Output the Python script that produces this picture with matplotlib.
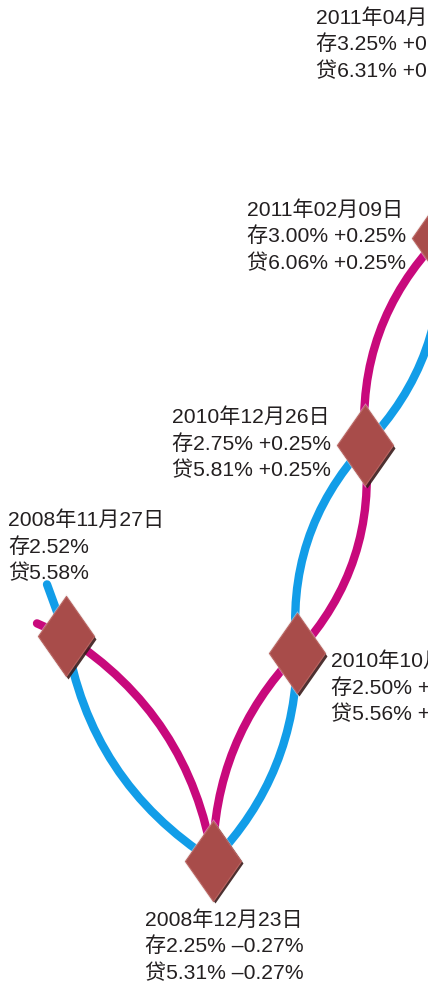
import matplotlib
matplotlib.use("Agg")
import matplotlib.pyplot as plt
import matplotlib.transforms as mtransforms
from matplotlib.path import Path
from matplotlib.patches import PathPatch
import numpy as np

# 数据：历次存贷款基准利率调整
dates = ["2008年11月27日", "2008年12月23日", "2010年10月20日",
         "2010年12月26日", "2011年02月09日", "2011年04月06日"]
deposit = [2.52, 2.25, 2.50, 2.75, 3.00, 3.25]
loan = [5.58, 5.31, 5.56, 5.81, 6.06, 6.31]
change = [None, -0.27, 0.25, 0.25, 0.25, 0.25]

# 版式（横向位置，像素）
x_pos = [66, 213, 297, 365, 440, 509]
# 文字相对菱形中心的偏移（像素，x, 首行y）
label_off = [(-58, 116), (-68, -59), (34, -8), (-193, 28), (-193, 28), (-193, 12)]
line_gap = 26.7
magenta_side = [1, 1, -1, 1, -1]
bulge = [40, 30, 33, 33, 33]

BLUE = "#129de8"
MAGENTA = "#c8097c"
DIAMOND = "#a84c4a"
FONT = ["Liberation Sans", "Noto Sans CJK SC", "DejaVu Sans"]

fig = plt.figure(figsize=(4.28, 9.82), dpi=100)
ax = fig.add_axes([0, 0, 1, 1])
ax.set_xlim(0, 428)
ax.set_ylim(2.104, 3.286)
ax.axis("off")

pts = ax.transData.transform(np.column_stack([x_pos, deposit]))


def strand(sides, start_off):
    p0 = pts[0]
    verts = [p0 + np.array(start_off), p0]
    codes = [Path.MOVETO, Path.LINETO]
    for i in range(len(pts) - 1):
        p, q = pts[i], pts[i + 1]
        d = q - p
        n = np.array([-d[1], d[0]]) / np.hypot(*d)
        h = sides[i] * bulge[i]
        verts += [p + d / 3 + n * h, p + 2 * d / 3 + n * h, q]
        codes += [Path.CURVE4] * 3
    verts = ax.transData.inverted().transform(np.array(verts))
    return Path(verts, codes)


blue_sides = [-s for s in magenta_side]
ax.add_patch(PathPatch(strand(blue_sides, (-19, 52)), fill=False, lw=6,
                       edgecolor=BLUE, capstyle="round", zorder=1))
ax.add_patch(PathPatch(strand(magenta_side, (-29, 13)), fill=False, lw=6,
                       edgecolor=MAGENTA, capstyle="round", zorder=2))

# 菱形
rhombus = Path([(0, 1), (0.7, 0), (0, -1), (-0.7, 0), (0, 1)],
               [Path.MOVETO, Path.LINETO, Path.LINETO, Path.LINETO, Path.CLOSEPOLY])
shadow = mtransforms.offset_copy(ax.transData, fig=fig, x=2.5, y=-2.5, units="dots")
ax.plot(x_pos, deposit, ls="none", marker=rhombus, ms=61, mfc="#e6dcdc",
        mec="none", alpha=0.5, zorder=3)
ax.plot(x_pos, deposit, ls="none", marker=rhombus, ms=57.6, mfc="#3a1a1a",
        mec="none", alpha=0.9, transform=shadow, zorder=3)
ax.plot(x_pos, deposit, ls="none", marker=rhombus, ms=57.6, mfc=DIAMOND,
        mec="#b96461", mew=0.8, zorder=4)

# 标注
for i in range(len(dates)):
    lines = [dates[i], f"存{deposit[i]:.2f}%", f"贷{loan[i]:.2f}%"]
    if change[i] is not None:
        sign = "+" if change[i] > 0 else "\u2013"
        tail = f" {sign}{abs(change[i]):.2f}%"
        lines[1] += tail
        lines[2] += tail
    dx, dy = label_off[i]
    for k, s in enumerate(lines):
        ax.annotate(s, (x_pos[i], deposit[i]), xytext=(dx, dy - k * line_gap),
                    textcoords="offset pixels", ha="left", va="center",
                    fontsize=15.2, color="#231f20", family=FONT,
                    annotation_clip=False, zorder=5)

fig.savefig("out.png", dpi=100, facecolor="white")
